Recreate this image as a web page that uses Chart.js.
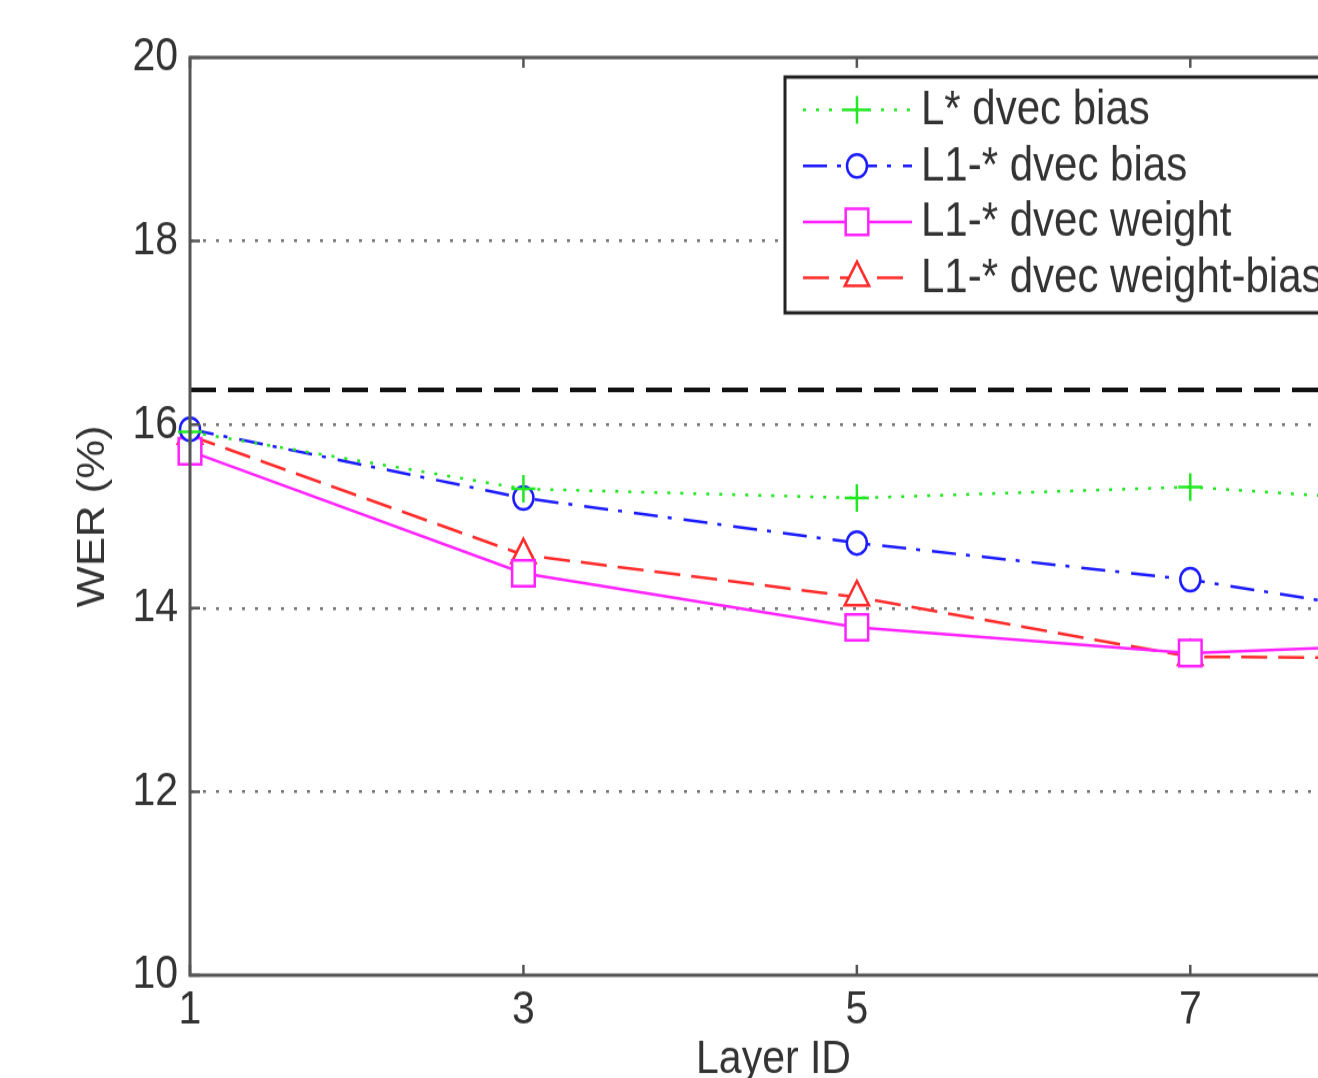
<!DOCTYPE html>
<html>
<head>
<meta charset="utf-8">
<script src="https://cdn.jsdelivr.net/npm/chart.js@4.4.0/dist/chart.umd.min.js"></script>
<style>
  html, body { margin: 0; padding: 0; background: #fff; overflow: hidden; }
  /* the original figure is a little stretched vertically */
  #wrap { position: absolute; left: 0; top: 0; transform: scaleY(1.15); transform-origin: 0 0; }
</style>
</head>
<body>
<div id="wrap"><canvas id="wer-chart" width="1400" height="960"></canvas></div>
<script>
const layerIds = [1, 3, 5, 7, 8];
const xTicks = [1, 3, 5, 7];
const yTicks = [10, 12, 14, 16, 18, 20];

const lStarBias = [15.92, 15.3, 15.2, 15.32, 15.2];
const l1Bias = [15.95, 15.2, 14.71, 14.31, 14.02];
const l1Weight = [15.71, 14.38, 13.79, 13.51, 13.58];
const l1WeightBias = [15.88, 14.58, 14.12, 13.47, 13.46];
const baselineWer = 16.38;

const seriesNames = ['L* dvec bias', 'L1-* dvec bias', 'L1-* dvec weight', 'L1-* dvec weight-bias'];

const FONT = "'Liberation Sans', Arial, sans-serif";
const TEXT = '#333';
const pts = arr => layerIds.map((x, i) => ({ x: x, y: arr[i] }));

const series = (label, values, color, dash, style, radius) => ({
    label: label,
    data: pts(values),
    borderColor: color,
    borderWidth: 2.5,
    borderDash: dash,
    pointStyle: style,
    pointRadius: radius,
    pointBorderWidth: 2.5,
    pointBorderColor: color,
    pointBackgroundColor: '#fff',
    tension: 0,
    clip: false,
    fill: false
});

const datasets = [
    series(seriesNames[0], lStarBias, '#22e822', [3, 10], 'cross', 12),
    series(seriesNames[1], l1Bias, '#1a1aff', [24, 10, 4, 12], 'circle', 10),
    series(seriesNames[2], l1Weight, '#ff22ff', [], 'rect', 16),
    series(seriesNames[3], l1WeightBias, '#ff2a2a', [26, 11], 'triangle', 14),
    {
        label: '',
        data: [{ x: 1, y: baselineWer }, { x: 8, y: baselineWer }],
        borderColor: '#111',
        borderWidth: 4,
        borderDash: [26, 12],
        pointRadius: 0,
        tension: 0
    }
];

// axis box with inward ticks, drawn above the lines like the original
const axisFrame = {
    id: 'axisFrame',
    afterDatasetsDraw(chart) {
        const { ctx, chartArea: a, scales } = chart;
        ctx.save();
        ctx.setLineDash([]);
        ctx.strokeStyle = '#555';
        ctx.lineWidth = 3;
        ctx.strokeRect(a.left, a.top, a.right - a.left, a.bottom - a.top);
        ctx.lineWidth = 2.5;
        ctx.beginPath();
        xTicks.forEach(v => {
            const x = scales.x.getPixelForValue(v);
            ctx.moveTo(x, a.bottom); ctx.lineTo(x, a.bottom - 9);
            ctx.moveTo(x, a.top); ctx.lineTo(x, a.top + 9);
        });
        yTicks.forEach(v => {
            const y = scales.y.getPixelForValue(v);
            ctx.moveTo(a.left, y); ctx.lineTo(a.left + 10, y);
            ctx.moveTo(a.right, y); ctx.lineTo(a.right - 10, y);
        });
        ctx.stroke();
        ctx.restore();
    }
};

// MATLAB style legend box in the top right corner
const legendBox = {
    id: 'legendBox',
    afterDraw(chart) {
        const { ctx, chartArea: a } = chart;
        const left = a.left + 595, top = a.top + 17, right = a.right - 14, bottom = top + 205;
        ctx.save();
        ctx.fillStyle = '#fff';
        ctx.fillRect(left, top, right - left, bottom - top);
        ctx.strokeStyle = '#222';
        ctx.lineWidth = 3;
        ctx.setLineDash([]);
        ctx.strokeRect(left, top, right - left, bottom - top);
        seriesNames.forEach((name, i) => {
            const ds = chart.data.datasets[i];
            const y = top + 28.5 + i * 48.7;
            ctx.strokeStyle = ds.borderColor;
            ctx.lineWidth = ds.borderWidth;
            ctx.setLineDash(ds.borderDash);
            ctx.beginPath();
            ctx.moveTo(left + 18, y);
            ctx.lineTo(left + 127, y);
            ctx.stroke();
            ctx.setLineDash([]);
            ctx.fillStyle = '#fff';
            ctx.lineWidth = ds.pointBorderWidth;
            Chart.helpers.drawPoint(ctx, {
                pointStyle: ds.pointStyle, radius: ds.pointRadius,
                rotation: 0, borderWidth: ds.pointBorderWidth
            }, left + 72, y);
            ctx.fillStyle = TEXT;
            ctx.font = '42px ' + FONT;
            ctx.textBaseline = 'middle';
            ctx.textAlign = 'left';
            ctx.fillText(name, left + 136, y + 1);
        });
        ctx.restore();
    }
};

new Chart(document.getElementById('wer-chart'), {
    type: 'line',
    data: { datasets: datasets },
    options: {
        responsive: false,
        animation: false,
        devicePixelRatio: 1,
        layout: { padding: { top: 50, right: 43, left: 0, bottom: 0 } },
        plugins: {
            legend: { display: false },
            tooltip: { enabled: false }
        },
        scales: {
            x: {
                type: 'linear',
                min: 1,
                max: 8,
                afterBuildTicks: scale => { scale.ticks = xTicks.map(v => ({ value: v })); },
                afterFit: scale => { scale.height = 112; },
                grid: { display: false, drawTicks: false },
                border: { display: false },
                ticks: {
                    padding: 6,
                    color: TEXT,
                    font: { family: FONT, size: 41 }
                },
                title: {
                    display: true,
                    text: 'Layer ID',
                    color: TEXT,
                    font: { family: FONT, size: 41 },
                    padding: { top: 0, bottom: 14 }
                }
            },
            y: {
                min: 10,
                max: 20,
                afterFit: scale => { scale.width = 190; },
                grid: {
                    drawTicks: false,
                    lineWidth: 2.5,
                    color: c => (c.tick && (c.tick.value === 10 || c.tick.value === 20)) ? 'rgba(0,0,0,0)' : '#777'
                },
                border: { display: false, dash: [3, 10] },
                ticks: {
                    stepSize: 2,
                    padding: 12,
                    color: TEXT,
                    font: { family: FONT, size: 41 }
                },
                title: {
                    display: true,
                    text: 'WER (%)',
                    color: TEXT,
                    font: { family: FONT, size: 38 },
                    padding: { top: 71, bottom: 0 }
                }
            }
        }
    },
    plugins: [axisFrame, legendBox]
});
</script>
</body>
</html>
